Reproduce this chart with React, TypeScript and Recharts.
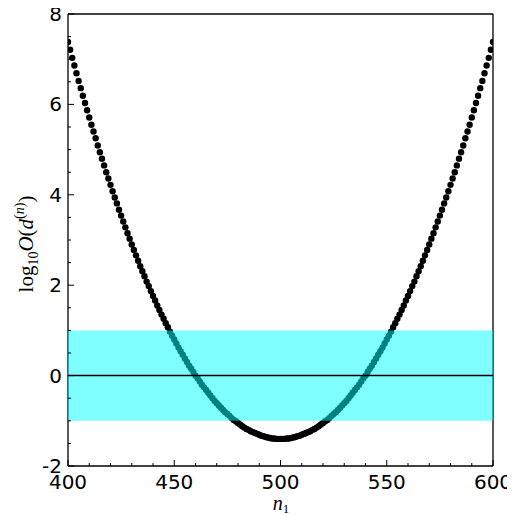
import React from "react";
import {
  ComposedChart,
  Scatter,
  XAxis,
  YAxis,
  ReferenceArea,
  ReferenceLine,
} from "recharts";

// n1 from 400 to 600, one point per integer
const n1Values = [
  400, 401, 402, 403, 404, 405, 406, 407, 408, 409,
  410, 411, 412, 413, 414, 415, 416, 417, 418, 419,
  420, 421, 422, 423, 424, 425, 426, 427, 428, 429,
  430, 431, 432, 433, 434, 435, 436, 437, 438, 439,
  440, 441, 442, 443, 444, 445, 446, 447, 448, 449,
  450, 451, 452, 453, 454, 455, 456, 457, 458, 459,
  460, 461, 462, 463, 464, 465, 466, 467, 468, 469,
  470, 471, 472, 473, 474, 475, 476, 477, 478, 479,
  480, 481, 482, 483, 484, 485, 486, 487, 488, 489,
  490, 491, 492, 493, 494, 495, 496, 497, 498, 499,
  500,
  501, 502, 503, 504, 505, 506, 507, 508, 509, 510,
  511, 512, 513, 514, 515, 516, 517, 518, 519, 520,
  521, 522, 523, 524, 525, 526, 527, 528, 529, 530,
  531, 532, 533, 534, 535, 536, 537, 538, 539, 540,
  541, 542, 543, 544, 545, 546, 547, 548, 549, 550,
  551, 552, 553, 554, 555, 556, 557, 558, 559, 560,
  561, 562, 563, 564, 565, 566, 567, 568, 569, 570,
  571, 572, 573, 574, 575, 576, 577, 578, 579, 580,
  581, 582, 583, 584, 585, 586, 587, 588, 589, 590,
  591, 592, 593, 594, 595, 596, 597, 598, 599, 600,
];

// log10 O(d^(n))
const logOValues = [
  7.38, 7.21, 7.03, 6.86, 6.69, 6.52, 6.36, 6.19, 6.03, 5.87,
  5.71, 5.55, 5.4, 5.25, 5.09, 4.94, 4.8, 4.65, 4.5, 4.36,
  4.22, 4.08, 3.94, 3.81, 3.67, 3.54, 3.41, 3.28, 3.15, 3.03,
  2.9, 2.78, 2.66, 2.54, 2.42, 2.31, 2.2, 2.08, 1.98, 1.87,
  1.76, 1.66, 1.55, 1.45, 1.35, 1.26, 1.16, 1.07, 0.97, 0.88,
  0.8, 0.71, 0.62, 0.54, 0.46, 0.38, 0.3, 0.22, 0.15, 0.08,
  0.0, -0.06, -0.13, -0.2, -0.26, -0.32, -0.38, -0.44, -0.5, -0.56,
  -0.61, -0.66, -0.71, -0.76, -0.81, -0.85, -0.89, -0.94, -0.98, -1.01,
  -1.05, -1.08, -1.12, -1.15, -1.18, -1.2, -1.23, -1.25, -1.27, -1.29,
  -1.31, -1.33, -1.34, -1.36, -1.37, -1.38, -1.39, -1.39, -1.4, -1.4,
  -1.4,
  -1.4, -1.4, -1.39, -1.39, -1.38, -1.37, -1.36, -1.34, -1.33, -1.31,
  -1.29, -1.27, -1.25, -1.23, -1.2, -1.18, -1.15, -1.12, -1.08, -1.05,
  -1.01, -0.98, -0.94, -0.89, -0.85, -0.81, -0.76, -0.71, -0.66, -0.61,
  -0.56, -0.5, -0.44, -0.38, -0.32, -0.26, -0.2, -0.13, -0.06, 0.0,
  0.08, 0.15, 0.22, 0.3, 0.38, 0.46, 0.54, 0.62, 0.71, 0.8,
  0.88, 0.97, 1.07, 1.16, 1.26, 1.35, 1.45, 1.55, 1.66, 1.76,
  1.87, 1.98, 2.08, 2.2, 2.31, 2.42, 2.54, 2.66, 2.78, 2.9,
  3.03, 3.15, 3.28, 3.41, 3.54, 3.67, 3.81, 3.94, 4.08, 4.22,
  4.36, 4.5, 4.65, 4.8, 4.94, 5.09, 5.25, 5.4, 5.55, 5.71,
  5.87, 6.03, 6.19, 6.36, 6.52, 6.69, 6.86, 7.03, 7.21, 7.38,
];

const xMajorTicks = [400, 450, 500, 550, 600];
const xMinorTicks = [
  410, 420, 430, 440, 460, 470, 480, 490,
  510, 520, 530, 540, 560, 570, 580, 590,
];
const yMajorTicks = [-2, 0, 2, 4, 6, 8];
const yMinorTicks = [-1.5, -1, -0.5, 0.5, 1, 1.5, 2.5, 3, 3.5, 4.5, 5, 5.5, 6.5, 7, 7.5];

// band of acceptable values
const bandLow = -1;
const bandHigh = 1;

const data = n1Values.map((n, i) => ({ n1: n, logO: logOValues[i] }));
const xTicks = [...xMajorTicks, ...xMinorTicks];
const yTicks = [...yMajorTicks, ...yMinorTicks];

const W = 507;
const H = 507;
const MAJOR = 6;
const MINOR = 3;
const tickFont = "'DejaVu Sans', sans-serif";
const mathFont = "'Liberation Serif', 'DejaVu Serif', serif";

const tickLen = (v: number, majors: number[]) =>
  majors.includes(v) ? MAJOR : MINOR;

function BottomTick(props: any) {
  const { x, y, payload } = props;
  const v = payload.value;
  const major = xMajorTicks.includes(v);
  return (
    <g>
      <line x1={x} y1={y} x2={x} y2={y - tickLen(v, xMajorTicks)} stroke="#000" strokeWidth={1} />
      {major && (
        <text x={x} y={y + 23} textAnchor="middle" fontSize={20} fontFamily={tickFont} fill="#000">
          {v}
        </text>
      )}
    </g>
  );
}

function TopTick(props: any) {
  const { x, y, payload } = props;
  return (
    <line x1={x} y1={y} x2={x} y2={y + tickLen(payload.value, xMajorTicks)} stroke="#000" strokeWidth={1} />
  );
}

function LeftTick(props: any) {
  const { x, y, payload } = props;
  const v = payload.value;
  const major = yMajorTicks.includes(v);
  return (
    <g>
      <line x1={x} y1={y} x2={x + tickLen(v, yMajorTicks)} y2={y} stroke="#000" strokeWidth={1} />
      {major && (
        <text x={x - 6} y={y + 7} textAnchor="end" fontSize={20} fontFamily={tickFont} fill="#000">
          {v}
        </text>
      )}
    </g>
  );
}

function RightTick(props: any) {
  const { x, y, payload } = props;
  return (
    <line x1={x} y1={y} x2={x - tickLen(payload.value, yMajorTicks)} y2={y} stroke="#000" strokeWidth={1} />
  );
}

const Dot = (p: any) => <circle cx={p.cx} cy={p.cy} r={3.2} fill="#000" />;

export default function App() {
  const axisLine = { stroke: "#000", strokeWidth: 1.3 };
  return (
    <div style={{ position: "relative", width: W, height: H }}>
      <ComposedChart
        width={W}
        height={H}
        data={data}
        margin={{ top: 4, right: 20, bottom: 19, left: 30 }}
      >
        <XAxis
          xAxisId="b"
          dataKey="n1"
          type="number"
          domain={[400, 600]}
          ticks={xTicks}
          interval={0}
          height={30}
          tickSize={0}
          tickMargin={0}
          tickLine={false}
          axisLine={axisLine}
          tick={BottomTick}
          allowDataOverflow
        />
        <XAxis
          xAxisId="t"
          orientation="top"
          type="number"
          domain={[400, 600]}
          ticks={xTicks}
          interval={0}
          height={2}
          tickSize={0}
          tickMargin={0}
          tickLine={false}
          axisLine={axisLine}
          tick={TopTick}
        />
        <YAxis
          yAxisId="l"
          dataKey="logO"
          type="number"
          domain={[-2, 8]}
          ticks={yTicks}
          interval={0}
          width={30}
          tickSize={0}
          tickMargin={0}
          tickLine={false}
          axisLine={axisLine}
          tick={LeftTick}
          allowDataOverflow
        />
        <YAxis
          yAxisId="r"
          orientation="right"
          type="number"
          domain={[-2, 8]}
          ticks={yTicks}
          interval={0}
          width={2}
          tickSize={0}
          tickMargin={0}
          tickLine={false}
          axisLine={axisLine}
          tick={RightTick}
        />
        <Scatter
          xAxisId="b"
          yAxisId="l"
          dataKey="logO"
          fill="#000"
          shape={Dot}
          isAnimationActive={false}
        />
        <ReferenceArea
          xAxisId="b"
          yAxisId="l"
          x1={400}
          x2={600}
          y1={bandLow}
          y2={bandHigh}
          fill="#00ffff"
          fillOpacity={0.5}
          stroke="none"
          zIndex={700}
        />
        <ReferenceLine
          xAxisId="b"
          yAxisId="l"
          y={0}
          stroke="#000"
          strokeWidth={1.5}
          zIndex={800}
        />
      </ComposedChart>
      <svg
        width={W}
        height={H}
        style={{ position: "absolute", left: 0, top: 0, pointerEvents: "none" }}
      >
        <text
          transform="translate(25,236) rotate(-90)"
          textAnchor="middle"
          fontFamily={mathFont}
          fontSize={21}
          fill="#000"
        >
          log
          <tspan fontSize={14} dy={5}>10</tspan>
          <tspan fontStyle="italic" dy={-5}>O</tspan>
          <tspan>(</tspan>
          <tspan fontStyle="italic">d</tspan>
          <tspan fontSize={14} dy={-9}>(</tspan>
          <tspan fontSize={14} fontStyle="italic">n</tspan>
          <tspan fontSize={14}>)</tspan>
          <tspan dy={9}>)</tspan>
        </text>
        <text
          x={273}
          y={502}
          textAnchor="middle"
          fontFamily={mathFont}
          fontSize={20}
          fill="#000"
        >
          <tspan fontStyle="italic">n</tspan>
          <tspan fontSize={13} dy={3}>1</tspan>
        </text>
      </svg>
    </div>
  );
}
